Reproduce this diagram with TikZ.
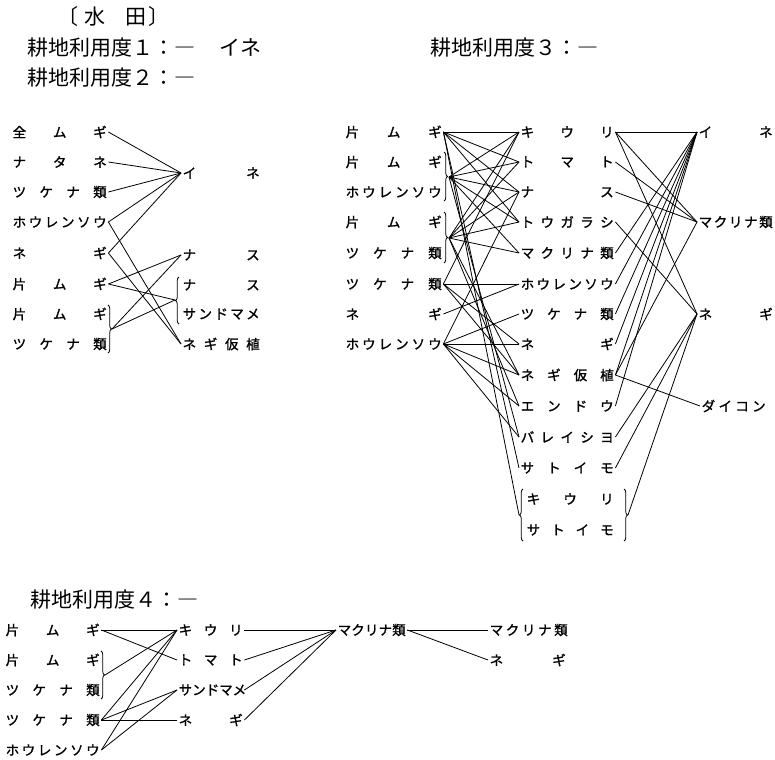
\documentclass[tikz,border=0pt]{standalone}
\usepackage{fontspec}
\usetikzlibrary{decorations.pathreplacing}
\newfontfamily\jp{Noto Sans CJK JP}
\newfontfamily\jpb[FakeBold=1.3]{Noto Sans CJK JP}
\newcommand\labfont{\jpb\fontsize{13.5}{14}\selectfont}
\newcommand\titfont{\jp\fontsize{21}{22}\selectfont}
\newcommand\sx[2]{\makebox[#1][s]{#2}}
\begin{document}
\begin{tikzpicture}[x=1pt,y=-1pt,
 lab/.style={anchor=west,inner sep=1.5pt,font=\labfont},
 tit/.style={anchor=west,inner sep=0pt,font=\titfont},
 ln/.style={line width=0.8pt},
 brc/.style={line width=0.8pt,decorate,decoration={brace,amplitude=3.5pt}}]
\useasboundingbox (0,0) rectangle (775,759);
\fill[white] (0,0) rectangle (775,759);
% titles
\node[tit] (t0) at (57,17) {〔\hspace{6pt}水\hspace{20pt}田\hspace{2pt}〕};
\node[tit] (t1) at (27,48) {耕地利用度１：―\hspace{24pt}イネ};
\node[tit] (t2) at (27,78) {耕地利用度２：―};
\node[tit] (t3) at (430,48) {耕地利用度３：―};
\node[tit] (t4) at (30,600) {耕地利用度４：―};
% ---------- section 2 ----------
\node[lab] (a1) at (11,132) {\sx{94pt}{全\hfill ム\hfill ギ}};
\node[lab] (a2) at (11,162) {\sx{94pt}{ナ\hfill タ\hfill ネ}};
\node[lab] (a3) at (11,192) {\sx{94pt}{ツ\hfill ケ\hfill ナ\hfill 類}};
\node[lab] (a4) at (11,222) {\sx{94pt}{ホ\hfill ウ\hfill レ\hfill ン\hfill ソ\hfill ウ}};
\node[lab] (a5) at (11,253) {\sx{94pt}{ネ\hfill ギ}};
\node[lab] (a6) at (11,284) {\sx{94pt}{片\hfill ム\hfill ギ}};
\node[lab] (a7) at (11,314) {\sx{94pt}{片\hfill ム\hfill ギ}};
\node[lab] (a8) at (11,344) {\sx{94pt}{ツ\hfill ケ\hfill ナ\hfill 類}};
\node[lab] (b1) at (181,173) {\sx{77pt}{イ\hfill ネ}};
\node[lab] (b2) at (181,255) {\sx{77pt}{ナ\hfill ス}};
\node[lab] (b3) at (181,285) {\sx{77pt}{ナ\hfill ス}};
\node[lab] (b4) at (181,314) {\sx{77pt}{サ\hfill ン\hfill ド\hfill マ\hfill メ}};
\node[lab] (b5) at (181,344) {\sx{77pt}{ネ\hfill ギ\hfill 仮\hfill 植}};
\draw[brc] (108,305) -- (108,353);
\coordinate (ab) at (112,329);
\draw[brc] (179,324) -- (179,277);
\coordinate (bb) at (175,300);
\foreach \s in {a1,a2,a3,a4,a5} \draw[ln] (\s.east) -- (b1.west);
\draw[ln] (a4.east) -- (b5.west);
\draw[ln] (a5.east) -- (b5.west);
\draw[ln] (a6.east) -- (b2.west);
\draw[ln] (a6.east) -- (bb);
\draw[ln] (ab) -- (b2.west);
\draw[ln] (ab) -- (bb);
% ---------- section 3 ----------
\node[lab] (c1) at (344,132) {\sx{96pt}{片\hfill ム\hfill ギ}};
\node[lab] (c2) at (344,162) {\sx{96pt}{片\hfill ム\hfill ギ}};
\node[lab] (c3) at (344,192) {\sx{96pt}{ホ\hfill ウ\hfill レ\hfill ン\hfill ソ\hfill ウ}};
\node[lab] (c4) at (344,222) {\sx{96pt}{片\hfill ム\hfill ギ}};
\node[lab] (c5) at (344,253) {\sx{96pt}{ツ\hfill ケ\hfill ナ\hfill 類}};
\node[lab] (c6) at (344,284) {\sx{96pt}{ツ\hfill ケ\hfill ナ\hfill 類}};
\node[lab] (c7) at (344,314) {\sx{96pt}{ネ\hfill ギ}};
\node[lab] (c8) at (344,344) {\sx{96pt}{ホ\hfill ウ\hfill レ\hfill ン\hfill ソ\hfill ウ}};
\draw[brc] (444,152) -- (444,201);
\coordinate (cb1) at (449,177);
\draw[brc] (444,212) -- (444,263);
\coordinate (cb2) at (449,238);
\node[lab] (d1) at (519,132) {\sx{93pt}{キ\hfill ウ\hfill リ}};
\node[lab] (d2) at (519,162) {\sx{93pt}{ト\hfill マ\hfill ト}};
\node[lab] (d3) at (519,192) {\sx{93pt}{ナ\hfill ス}};
\node[lab] (d4) at (519,222) {\sx{93pt}{ト\hfill ウ\hfill ガ\hfill ラ\hfill シ}};
\node[lab] (d5) at (519,253) {\sx{93pt}{マ\hfill ク\hfill リ\hfill ナ\hfill 類}};
\node[lab] (d6) at (519,284) {\sx{93pt}{ホ\hfill ウ\hfill レ\hfill ン\hfill ソ\hfill ウ}};
\node[lab] (d7) at (519,314) {\sx{93pt}{ツ\hfill ケ\hfill ナ\hfill 類}};
\node[lab] (d8) at (519,344) {\sx{93pt}{ネ\hfill ギ}};
\node[lab] (d9) at (519,375) {\sx{93pt}{ネ\hfill ギ\hfill 仮\hfill 植}};
\node[lab] (d10) at (519,406) {\sx{93pt}{エ\hfill ン\hfill ド\hfill ウ}};
\node[lab] (d11) at (519,437) {\sx{93pt}{バ\hfill レ\hfill イ\hfill シ\hfill ヨ}};
\node[lab] (d12) at (519,468) {\sx{93pt}{サ\hfill ト\hfill イ\hfill モ}};
\node[lab] (d13) at (525,499) {\sx{87pt}{キ\hfill ウ\hfill リ}};
\node[lab] (d14) at (525,530) {\sx{87pt}{サ\hfill ト\hfill イ\hfill モ}};
\draw[brc] (523,541) -- (523,489);
\coordinate (dbl) at (519,515);
\draw[brc] (624,489) -- (624,541);
\coordinate (dbr) at (628,515);
\node[lab] (e1) at (697,132) {\sx{74pt}{イ\hfill ネ}};
\node[lab] (e2) at (697,222) {\sx{74pt}{マ\hfill ク\hfill リ\hfill ナ\hfill 類}};
\node[lab] (e3) at (697,314) {\sx{74pt}{ネ\hfill ギ}};
\node[lab] (e4) at (700,406) {\sx{64pt}{ダ\hfill イ\hfill コ\hfill ン}};
% left -> middle
\foreach \t in {d1,d2,d3,d4,d12} \draw[ln] (c1.east) -- (\t.west);
\draw[ln] (c1.east) -- (dbl);
\foreach \t in {d1,d2,d3,d4,d5,d11} \draw[ln] (cb1) -- (\t.west);
\foreach \t in {d1,d2,d3,d4,d5,d9,d10} \draw[ln] (cb2) -- (\t.west);
\foreach \t in {d1,d6,d8,d9} \draw[ln] (c6.east) -- (\t.west);
\draw[ln] (c7.east) -- (d6.west);
\foreach \t in {d3,d7,d8,d9,d10,d11} \draw[ln] (c8.east) -- (\t.west);
% middle -> right
\foreach \s in {d1,d5,d6,d7,d8,d9,d10} \draw[ln] (\s.east) -- (e1.west);
\foreach \s in {d1,d2,d3,d9} \draw[ln] (\s.east) -- (e2.west);
\foreach \s in {d1,d4,d11,d12} \draw[ln] (\s.east) -- (e3.west);
\draw[ln] (dbr) -- (e3.west);
\draw[ln] (d9.east) -- (e4.west);
% ---------- section 4 ----------
\node[lab] (f1) at (4,630) {\sx{94pt}{片\hfill ム\hfill ギ}};
\node[lab] (f2) at (4,660) {\sx{94pt}{片\hfill ム\hfill ギ}};
\node[lab] (f3) at (4,690) {\sx{94pt}{ツ\hfill ケ\hfill ナ\hfill 類}};
\node[lab] (f4) at (4,720) {\sx{94pt}{ツ\hfill ケ\hfill ナ\hfill 類}};
\node[lab] (f5) at (4,750) {\sx{94pt}{ホ\hfill ウ\hfill レ\hfill ン\hfill ソ\hfill ウ}};
\draw[brc] (101,651) -- (101,699);
\coordinate (fb) at (105,675);
\node[lab] (g1) at (177,630) {\sx{64pt}{キ\hfill ウ\hfill リ}};
\node[lab] (g2) at (177,660) {\sx{64pt}{ト\hfill マ\hfill ト}};
\node[lab] (g3) at (177,690) {\sx{64pt}{サ\hfill ン\hfill ド\hfill マ\hfill メ}};
\node[lab] (g4) at (177,720) {\sx{64pt}{ネ\hfill ギ}};
\node[lab] (h1) at (336,630) {\sx{68pt}{マ\hfill ク\hfill リ\hfill ナ\hfill 類}};
\node[lab] (k1) at (488,630) {\sx{78pt}{マ\hfill ク\hfill リ\hfill ナ\hfill 類}};
\node[lab] (k2) at (488,660) {\sx{76pt}{ネ\hfill ギ}};
\draw[ln] (f1.east) -- (g1.west);
\draw[ln] (f1.east) -- (g2.west);
\draw[ln] (fb) -- (g1.west);
\foreach \t in {g1,g3,g4} \draw[ln] (f4.east) -- (\t.west);
\foreach \t in {g1,g3} \draw[ln] (f5.east) -- (\t.west);
\foreach \s in {g1,g2,g3,g4} \draw[ln] (\s.east) -- (h1.west);
\draw[ln] (h1.east) -- (k1.west);
\draw[ln] (h1.east) -- (k2.west);
\end{tikzpicture}
\end{document}
